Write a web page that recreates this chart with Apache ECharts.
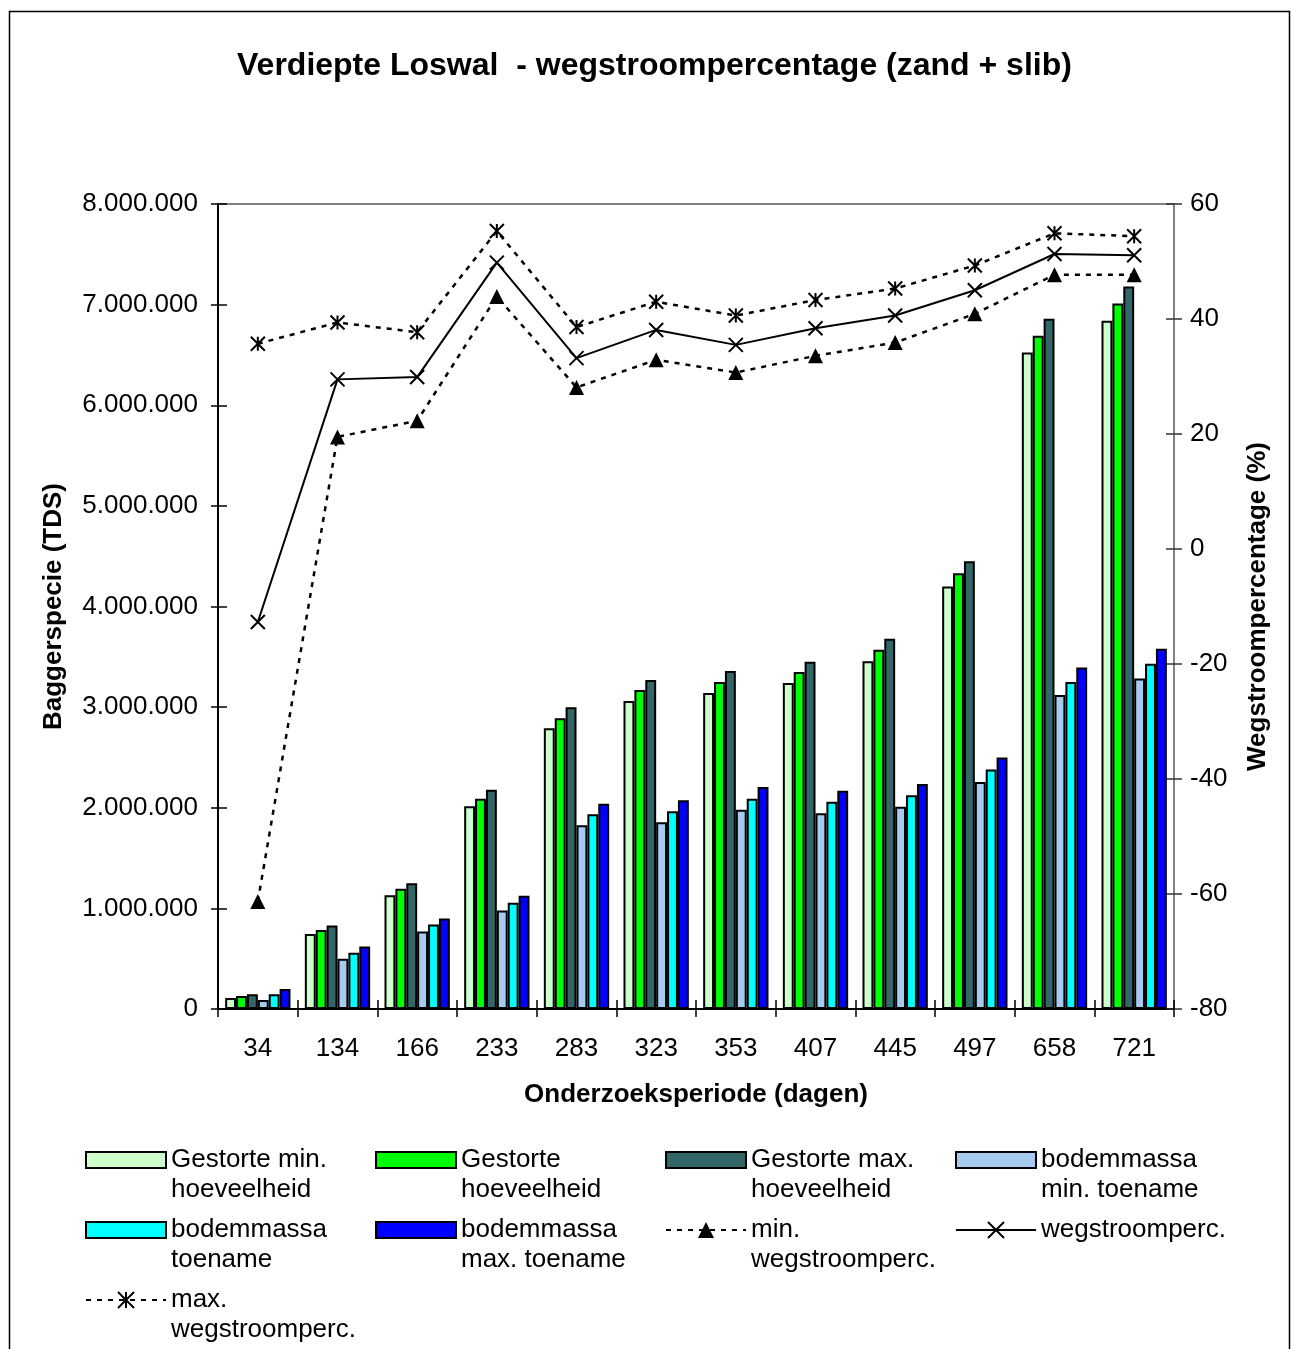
<!DOCTYPE html>
<html>
<head>
<meta charset="utf-8">
<script src="https://cdn.jsdelivr.net/npm/echarts@6/dist/echarts.min.js"></script>
<style>
  html, body { margin: 0; padding: 0; background: #fff; }
  #chart { width: 1292px; height: 1349px; }
</style>
</head>
<body>
<div id="chart"></div>
<script>
// Onderzoeksperiode (dagen)
const categories = ['34', '134', '166', '233', '283', '323', '353', '407', '445', '497', '658', '721'];

// Baggerspecie (TDS)
const gestorteMin = [110000, 745000, 1130000, 2015000, 2790000, 3060000, 3140000, 3240000, 3455000, 4200000, 6525000, 6840000];
const gestorte    = [130000, 785000, 1195000, 2090000, 2890000, 3170000, 3250000, 3350000, 3570000, 4330000, 6690000, 7010000];
const gestorteMax = [146000, 830000, 1250000, 2180000, 3000000, 3270000, 3360000, 3450000, 3680000, 4450000, 6860000, 7180000];
const bodemMin    = [90000, 500000, 770000, 980000, 1825000, 1855000, 1980000, 1945000, 2010000, 2255000, 3120000, 3285000];
const bodem       = [146000, 560000, 840000, 1055000, 1935000, 1965000, 2090000, 2060000, 2125000, 2380000, 3250000, 3430000];
const bodemMax    = [200000, 620000, 900000, 1125000, 2040000, 2075000, 2205000, 2170000, 2235000, 2500000, 3395000, 3580000];

// Wegstroompercentage (%)
const wegMin = [-61.3, 19.5, 22.3, 43.9, 28.1, 32.9, 30.7, 33.6, 35.9, 40.9, 47.7, 47.7];
const weg    = [-12.7, 29.5, 29.9, 49.8, 33.2, 38.1, 35.5, 38.4, 40.6, 45.0, 51.3, 51.1];
const wegMax = [35.7, 39.4, 37.7, 55.3, 38.6, 43.0, 40.6, 43.3, 45.3, 49.3, 54.9, 54.4];

// Axis ticks
const leftTicks = { min: 0, max: 8000000, interval: 1000000 };
const rightTicks = { min: -80, max: 60, interval: 20 };

const FONT = "'Liberation Sans', Arial, sans-serif";

const barDefs = [
  { name: 'Gestorte min.\nhoeveelheid', data: gestorteMin, color: '#CCFFCC' },
  { name: 'Gestorte\nhoeveelheid', data: gestorte, color: '#00FF00' },
  { name: 'Gestorte max.\nhoeveelheid', data: gestorteMax, color: '#336666' },
  { name: 'bodemmassa\nmin. toename', data: bodemMin, color: '#A6CAF0' },
  { name: 'bodemmassa\ntoename', data: bodem, color: '#00FFFF' },
  { name: 'bodemmassa\nmax. toename', data: bodemMax, color: '#0000FF' }
];

const lineDefs = [
  { name: 'min.\nwegstroomperc.', data: wegMin, symbol: 'triangle', size: 15, dashed: true },
  { name: 'wegstroomperc.', data: weg, symbol: 'path://M0,0L10,10M10,0L0,10', size: 14, dashed: false },
  { name: 'max.\nwegstroomperc.', data: wegMax, symbol: 'path://M0,0L10,10M10,0L0,10M5,0L5,10', size: 14, dashed: true }
];

const series = [];
barDefs.forEach(function (b) {
  series.push({
    type: 'bar',
    name: b.name,
    data: b.data,
    xAxisIndex: 0,
    yAxisIndex: 0,
    barGap: '0%',
    barCategoryGap: '18%',
    itemStyle: { color: b.color, borderColor: '#000', borderWidth: 2 },
    emphasis: { disabled: true },
    z: 2
  });
});
lineDefs.forEach(function (l) {
  series.push({
    type: 'line',
    name: l.name,
    data: l.data,
    xAxisIndex: 0,
    yAxisIndex: 1,
    symbol: l.symbol,
    symbolSize: l.size,
    showAllSymbol: true,
    lineStyle: { color: '#000', width: l.dashed ? 2.5 : 2, type: l.dashed ? [5, 6] : 'solid' },
    itemStyle: { color: '#000', borderColor: '#000', borderWidth: l.symbol === 'triangle' ? 0 : 2 },
    emphasis: { disabled: true },
    animation: false,
    z: 5
  });
});

// Legend placement: four columns, three rows; the swatch sits level with the first text line
const legendCols = [85, 375, 665, 955];
const legendRows = [1160, 1230, 1300];
const legendNames = barDefs.map(function (b) { return b.name; }).concat(lineDefs.map(function (l) { return l.name; }));
const legends = legendNames.map(function (name, i) {
  const twoLines = name.indexOf('\n') >= 0;
  const isBar = i < barDefs.length;
  const cy = legendRows[Math.floor(i / 4)];
  return {
    data: [name],
    left: legendCols[i % 4],
    top: cy - (twoLines ? 45 : 15),
    padding: 0,
    itemWidth: 80,
    itemHeight: isBar ? 16 : 20,
    icon: isBar ? 'rect' : undefined,
    selectedMode: false,
    formatter: function (n) { return twoLines ? ' \n' + n : n; },
    textStyle: {
      fontFamily: FONT,
      fontSize: 26,
      lineHeight: 30,
      color: '#000'
    }
  };
});

function dotted(v) {
  return String(v).replace(/\B(?=(\d{3})+(?!\d))/g, '.');
}

const labelStyle = { fontFamily: FONT, fontSize: 26, color: '#000' };
const nameStyle = { fontFamily: FONT, fontSize: 26, fontWeight: 'bold', color: '#000' };

const option = {
  backgroundColor: '#fff',
  animation: false,
  title: {
    text: 'Verdiepte Loswal  - wegstroompercentage (zand + slib)',
    left: 237,
    top: 50,
    padding: 0,
    textStyle: { fontFamily: FONT, fontSize: 32, fontWeight: 'bold', color: '#000' }
  },
  graphic: [{
    type: 'rect',
    shape: { x: 9.5, y: 11.5, width: 1280, height: 1360 },
    style: { fill: 'none', stroke: '#000', lineWidth: 1.5 },
    silent: true,
    z: -1
  }],
  legend: legends,
  grid: {
    left: 218, right: 118, top: 204, bottom: 340,
    show: true, borderColor: '#808080', borderWidth: 2, backgroundColor: '#fff'
  },
  xAxis: [{
    type: 'category',
    data: categories,
    position: 'bottom',
    name: 'Onderzoeksperiode (dagen)',
    nameLocation: 'middle',
    nameGap: 73,
    nameTextStyle: nameStyle,
    axisLine: { onZero: false, lineStyle: { color: '#000', width: 2 } },
    axisTick: { show: true, length: 8, lineStyle: { color: '#000', width: 1.5 } },
    axisLabel: Object.assign({ margin: 27 }, labelStyle),
    splitLine: { show: false }
  }, {
    type: 'category',
    data: categories,
    position: 'bottom',
    axisLine: { show: false, onZero: false },
    axisTick: { show: true, inside: true, length: 9, lineStyle: { color: '#000', width: 1.5 } },
    axisLabel: { show: false },
    splitLine: { show: false }
  }],
  yAxis: [{
    type: 'value',
    position: 'left',
    min: leftTicks.min, max: leftTicks.max, interval: leftTicks.interval,
    name: 'Baggerspecie (TDS)',
    nameLocation: 'middle',
    nameRotate: 90,
    nameGap: 151,
    nameTextStyle: nameStyle,
    axisLine: { show: true, lineStyle: { color: '#000', width: 2 } },
    axisTick: { show: true, length: 7, lineStyle: { color: '#000', width: 1.5 } },
    axisLabel: Object.assign({ margin: 20, formatter: dotted }, labelStyle),
    splitLine: { show: false }
  }, {
    type: 'value',
    position: 'right',
    min: rightTicks.min, max: rightTicks.max, interval: rightTicks.interval,
    name: 'Wegstroompercentage (%)',
    nameLocation: 'middle',
    nameRotate: 90,
    nameGap: 71,
    nameTextStyle: nameStyle,
    axisLine: { show: true, lineStyle: { color: '#808080', width: 2 } },
    axisTick: { show: true, length: 8, lineStyle: { color: '#333', width: 1.5 } },
    axisLabel: Object.assign({ margin: 16 }, labelStyle),
    splitLine: { show: false }
  }, {
    type: 'value',
    position: 'left',
    min: leftTicks.min, max: leftTicks.max, interval: leftTicks.interval,
    axisLine: { show: false },
    axisTick: { show: true, inside: true, length: 9, lineStyle: { color: '#000', width: 1.5 } },
    axisLabel: { show: false },
    splitLine: { show: false }
  }, {
    type: 'value',
    position: 'right',
    min: rightTicks.min, max: rightTicks.max, interval: rightTicks.interval,
    axisLine: { show: false },
    axisTick: { show: true, inside: true, length: 8, lineStyle: { color: '#333', width: 1.5 } },
    axisLabel: { show: false },
    splitLine: { show: false }
  }],
  series: series
};

const chart = echarts.init(document.getElementById('chart'), null, { renderer: 'canvas' });
chart.setOption(option);
</script>
</body>
</html>
